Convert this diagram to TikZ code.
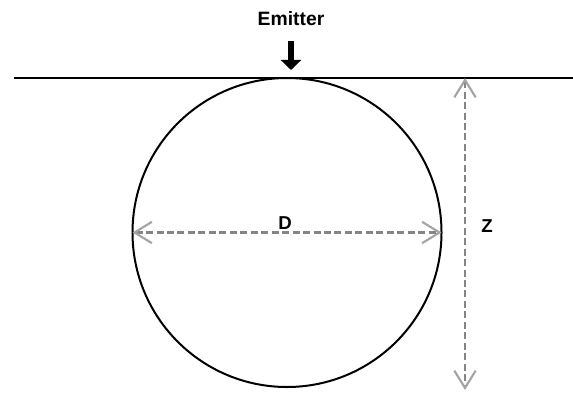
\documentclass[tikz,border=0pt]{standalone}
\usepackage{fontspec}
\setmainfont{Liberation Sans}
\usepackage{tikz}
\usetikzlibrary{arrows.meta}
\usetikzlibrary{positioning}
\usetikzlibrary{calc}

\definecolor{dimgray}{HTML}{858585}
\definecolor{tipgray}{HTML}{A4A4A4}

\begin{document}
\begin{tikzpicture}[x=0.75pt, y=-0.75pt,
    dimlabel/.style={font=\fontsize{14}{16}\selectfont\bfseries, inner sep=0pt},
    dimline/.style={draw=dimgray, line width=1.6pt, dash pattern=on 5.25pt off 2.6pt,
      {Straight Barb[length=13pt, width=16pt, color=tipgray]}-{Straight Barb[length=13pt, width=16pt, color=tipgray]}},
    emitarrow/.style={line width=5.2pt, -{Triangle[length=7.5pt, width=15pt]}}]
      \useasboundingbox (0,0) rectangle (573,392);
      % Radius of the sphere (px)
      \def\rad{154.5}
      % Depth of the surface line (px)
      \def\surf{78}
      % Surface line
      \coordinate (surfL) at (14,\surf);
      \coordinate (surfR) at (573,\surf);
      \draw[line width=1.5pt] (surfL) -- (surfR);
      % Sphere touching the surface
      \node[circle, draw, line width=1.5pt, inner sep=0pt, outer sep=0pt,
        minimum size=2*\rad*0.75pt] (ball) at (287,{\surf+\rad}) {};
      % Emitter on top
      \node[font=\fontsize{14.5}{16}\selectfont\bfseries, inner sep=0pt] (emitter) at (291,19) {Emitter};
      \draw[emitarrow, shorten <=11pt, shorten >=6pt] (emitter.south) -- (emitter.south |- ball.north);
      % Diameter
      \draw[dimline] (ball.west) -- (ball.east);
      \node[dimlabel] (dlab) at (285,223) {D};
      % Depth
      \coordinate (ztop) at (465,\surf);
      \coordinate (zbot) at (465,390);
      \draw[dimline] (ztop) -- (zbot);
      \node[dimlabel] (zlab) at (487,226) {Z};
    \end{tikzpicture}
\end{document}
